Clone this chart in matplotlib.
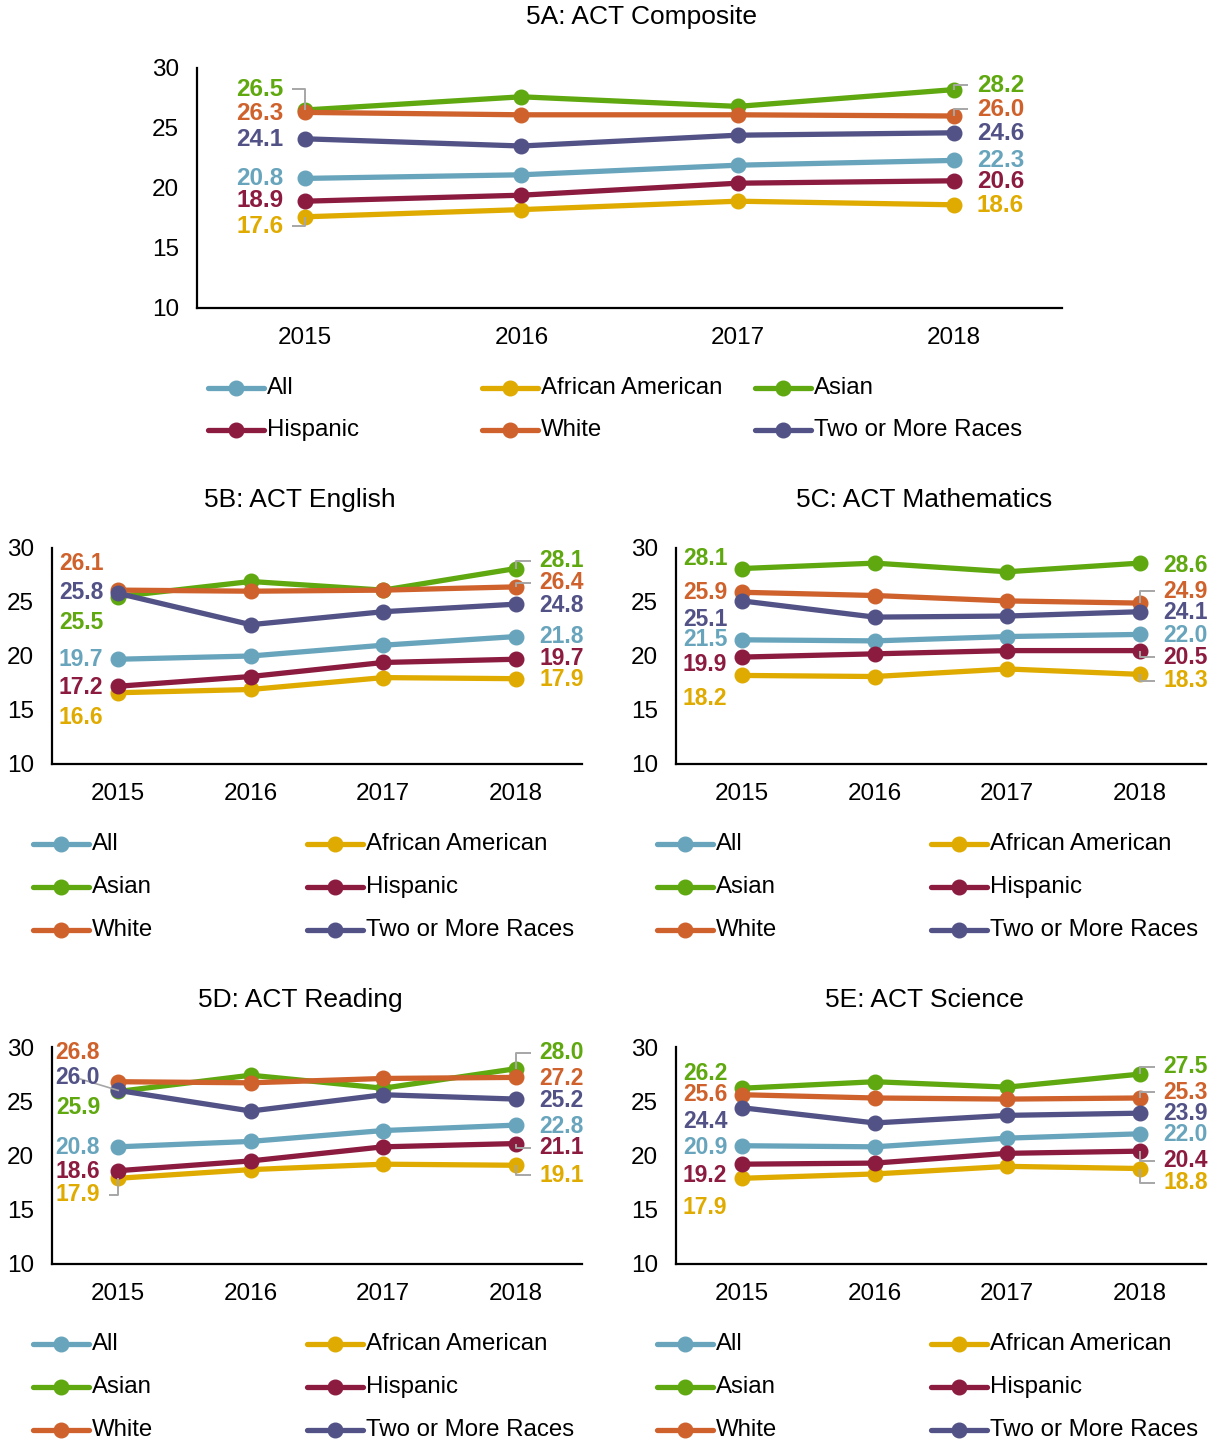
import matplotlib
matplotlib.use('Agg')
import matplotlib.pyplot as plt
from matplotlib.lines import Line2D

plt.rcParams['font.family'] = ['Liberation Sans', 'DejaVu Sans']

years = ['2015', '2016', '2017', '2018']
groups = ['All', 'African American', 'Asian', 'Hispanic', 'White', 'Two or More Races']
colors = ['#68A5BC', '#E0AB00', '#5FA80F', '#8C1B40', '#CF622C', '#525287']

# scores, one row per group (same order as groups)
composite = [
  [20.8, 21.1, 21.9, 22.3],
  [17.6, 18.2, 18.9, 18.6],
  [26.5, 27.6, 26.8, 28.2],
  [18.9, 19.4, 20.4, 20.6],
  [26.3, 26.1, 26.1, 26.0],
  [24.1, 23.5, 24.4, 24.6],
]
english = [
  [19.7, 20.0, 21.0, 21.8],
  [16.6, 16.9, 18.0, 17.9],
  [25.5, 26.9, 26.1, 28.1],
  [17.2, 18.1, 19.4, 19.7],
  [26.1, 26.0, 26.1, 26.4],
  [25.8, 22.9, 24.1, 24.8],
]
mathematics = [
  [21.5, 21.4, 21.8, 22.0],
  [18.2, 18.1, 18.8, 18.3],
  [28.1, 28.6, 27.8, 28.6],
  [19.9, 20.2, 20.5, 20.5],
  [25.9, 25.6, 25.1, 24.9],
  [25.1, 23.6, 23.7, 24.1],
]
reading = [
  [20.8, 21.3, 22.3, 22.8],
  [17.9, 18.7, 19.2, 19.1],
  [25.9, 27.4, 26.2, 28.0],
  [18.6, 19.5, 20.8, 21.1],
  [26.8, 26.7, 27.1, 27.2],
  [26.0, 24.1, 25.6, 25.2],
]
science = [
  [20.9, 20.8, 21.6, 22.0],
  [17.9, 18.3, 19.0, 18.8],
  [26.2, 26.8, 26.3, 27.5],
  [19.2, 19.3, 20.2, 20.4],
  [25.6, 25.3, 25.2, 25.3],
  [24.4, 23.0, 23.7, 23.9],
]

# where the value labels sit (y in data units), group order
lab_left = {
  'A': [20.83, 16.83, 28.25, 18.92, 26.25, 24.08],
  'B': [19.7, 14.3, 23.1, 17.1, 28.6, 25.9],
  'C': [21.5, 16.1, 29.0, 19.2, 25.9, 23.4],
  'D': [20.7, 16.4, 24.4, 18.5, 29.45, 27.2],
  'E': [20.7, 15.25, 27.6, 18.2, 25.6, 23.1],
}
lab_right = {
  'A': [22.33, 18.5, 28.58, 20.58, 26.58, 24.58],
  'B': [21.76, 17.8, 28.8, 19.8, 26.76, 24.7],
  'C': [21.9, 17.7, 28.4, 19.9, 26.0, 24.0],
  'D': [22.7, 18.2, 29.45, 20.7, 27.1, 25.1],
  'E': [21.9, 17.5, 28.2, 19.5, 25.85, 23.9],
}
# leader lines: (side, group index, style)
leaders = {
  'A': [('L', 2, 'elbow'), ('L', 1, 'elbow'), ('R', 2, 'elbow'), ('R', 4, 'elbow')],
  'B': [('R', 2, 'elbow'), ('R', 4, 'elbow')],
  'C': [('R', 4, 'elbow'), ('R', 3, 'elbow'), ('R', 1, 'elbow')],
  'D': [('L', 5, 'straight'), ('L', 1, 'elbow'), ('R', 2, 'elbow'), ('R', 3, 'elbow'), ('R', 1, 'elbow')],
  'E': [('R', 2, 'elbow'), ('R', 4, 'elbow'), ('R', 3, 'elbow'), ('R', 1, 'elbow')],
}

W, H = 1225, 1446
fig = plt.figure(figsize=(W / 100, H / 100), dpi=100)

# panel layout in pixels: left, top, right, bottom
panels = [
  ('A', '5A: ACT Composite', composite, (197, 68, 1062, 308), 642, 17, 22, 23),
  ('B', '5B: ACT English', english, (52, 548, 582, 764), 300, 500, 15, 24),
  ('C', '5C: ACT Mathematics', mathematics, (676, 548, 1206, 764), 924, 500, 15, 24),
  ('D', '5D: ACT Reading', reading, (52, 1047, 582, 1264), 300, 1000, 18, 24),
  ('E', '5E: ACT Science', science, (676, 1047, 1206, 1264), 924, 1000, 15, 24),
]

gray = '#A6A6A6'

for key, title, data, box, tx, ty, off_l, off_r in panels:
  l, t, r, b = box
  ax = fig.add_axes([l / W, 1 - b / H, (r - l) / W, (b - t) / H])
  px = 4.0 / (r - l)   # data units per pixel in x
  x = list(range(len(years)))
  for k, g in enumerate(groups):
    ax.plot(x, data[k], color=colors[k], lw=3.8, marker='o', ms=10.5,
            solid_capstyle='round', zorder=2 + k * 0.1)
  ax.set_xlim(-0.5, 3.5)
  ax.set_ylim(10, 30)
  ax.set_yticks([10, 15, 20, 25, 30])
  ax.set_xticks(x)
  ax.set_xticklabels(years)
  ax.tick_params(length=0, labelsize=17.5, colors='black')
  ax.tick_params(axis='y', pad=13)
  ax.tick_params(axis='x', pad=14)
  for s in ['top', 'right']:
    ax.spines[s].set_visible(False)
  for s in ['left', 'bottom']:
    ax.spines[s].set_linewidth(1.6)
    ax.spines[s].set_color('black')

  fs = 17.5 if key == 'A' else 16.5
  for k in range(len(groups)):
    ax.text(0 - off_l * px, lab_left[key][k], '%.1f' % data[k][0], ha='right', va='center',
            fontsize=fs, fontweight='bold', color=colors[k], zorder=6)
    ax.text(3 + off_r * px, lab_right[key][k], '%.1f' % data[k][3], ha='left', va='center',
            fontsize=fs, fontweight='bold', color=colors[k], zorder=6)

  for side, k, style in leaders[key]:
    if side == 'L':
      xi, yl, edge = 0, lab_left[key][k], 0 - (off_l - 9) * px
    else:
      xi, yl, edge = 3, lab_right[key][k], 3 + (off_r - 9) * px
    yv = data[k][xi]
    if style == 'elbow':
      ax.plot([edge, xi, xi], [yl, yl, yv], color=gray, lw=1.4, zorder=5, solid_capstyle='butt')
    else:
      ax.plot([xi - 38 * px, xi], [yl - 0.15, yv], color=gray, lw=1.2, zorder=5)

  fig.text(tx / W, 1 - ty / H, title, ha='center', va='center', fontsize=19)

# legends drawn by hand (Excel style columns)
def legend(cols, rows, order):
  n = 0
  for yy in rows:
    for xx in cols:
      k = order[n]
      n += 1
      y = 1 - yy / H
      x0, x1 = xx / W, (xx + 56) / W
      fig.add_artist(Line2D([x0, (x0 + x1) / 2, x1], [y, y, y], transform=fig.transFigure,
                            color=colors[k], lw=3.8, marker='o', ms=10.5, markevery=[1],
                            solid_capstyle='round'))
      fig.text((xx + 59) / W, y, groups[k], ha='left', va='center', fontsize=17.3)

legend([208, 482, 755], [388, 430], [0, 1, 2, 3, 4, 5])
legend([33, 307], [844, 887, 930], [0, 1, 2, 3, 4, 5])
legend([657, 931], [844, 887, 930], [0, 1, 2, 3, 4, 5])
legend([33, 307], [1344, 1387, 1430], [0, 1, 2, 3, 4, 5])
legend([657, 931], [1344, 1387, 1430], [0, 1, 2, 3, 4, 5])

fig.savefig('out.png', dpi=100)
